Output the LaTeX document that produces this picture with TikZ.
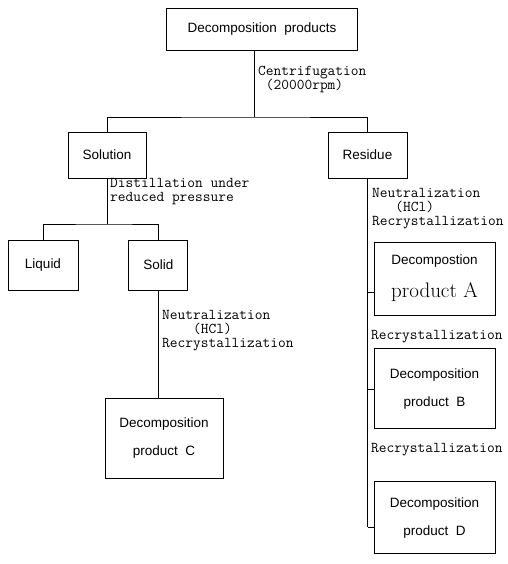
\documentclass[tikz,border=0pt]{standalone}
\usepackage{fontspec}
\setsansfont{Liberation Sans}
\usetikzlibrary{positioning}

\begin{document}
\begin{tikzpicture}[x=1pt, y=-1pt,
        b/.style={draw, line width=0.9pt, align=center, inner sep=2pt,
            font=\sffamily\fontsize{13.5}{28}\selectfont},
        b2/.style={b, minimum width=121pt},
        l/.style={anchor=north west, inner sep=0pt, align=left,
            font=\ttfamily\fontsize{15}{14}\selectfont},
        e/.style={line width=0.6pt}]
        \useasboundingbox (0,0) rectangle (507,564);

        \draw node[b, minimum width=191pt, minimum height=42pt] (dp) at (262,29) {Decomposition\ \ products};
        \draw node[b, minimum width=78pt, minimum height=46pt] (sln) at (107,155) {Solution}
              node[b, minimum width=79pt, minimum height=46pt] (res) at (367.5,155) {Residue};
        \draw node[b, minimum width=70pt, minimum height=50pt] (liq) at (43,265) {Liquid}
              node[b, minimum width=59pt, minimum height=50pt, right=50pt of liq] (sld) {Solid};
        \draw node[b, minimum width=118pt, minimum height=80pt] (C) at (164,438) {Decomposition\\product\ \ C};

        \draw node[b2, minimum height=73pt] (A) at (434.5,278.5) {Decompostion\\[5pt]{\rmfamily\fontsize{21}{28}\selectfont product A}};
        \draw node[b2, minimum height=80pt, below=33pt of A] (B) {Decomposition\\product\ \ B};
        \draw node[b2, minimum height=72pt, below=52pt of B] (D) {Decomposition\\product\ \ D};

        % labels
        \node[l] (cent) at (258,65.5) {Centrifugation\\\phantom{x}(20000rpm)};
        \node[l] (dist) at (110,178.5) {Distillation under\\reduced pressure};
        \node[l] (neuL) at (162,310.5) {Neutralization\\\phantom{xxxx}(HCl)\\Recrystallization};
        \node[l] (neuR) at (372,188.5) {Neutralization\\\phantom{xxx}(HCl)\\Recrystallization};
        \node[l] (recB) at (371,330.5) {Recrystallization};
        \node[l] (recD) at (371,443.5) {Recrystallization};

        % connectors
        \coordinate (j1) at (254,117);
        \coordinate (j2) at (107,224);
        \draw[e] (j1 |- dp.south) -- (j1) (sln.north) |- (j1) -| (res.north);
        \draw[e] (sln.south) -- (j2) (liq.north) |- (j2) -| (sld.north);
        \draw[e] (sld.south) -- (sld.south |- C.north);

        \foreach \n/\s in {A/-14pt, B/0pt, D/-9pt}
        \coordinate (t\n) at ([yshift=\s]\n.west);
        \draw[e] (res.south) -- (res.south |- tD);
        \foreach \n in {A, B, D}
        \draw[e] (res.south |- t\n) -- (t\n);
      \end{tikzpicture}
\end{document}
